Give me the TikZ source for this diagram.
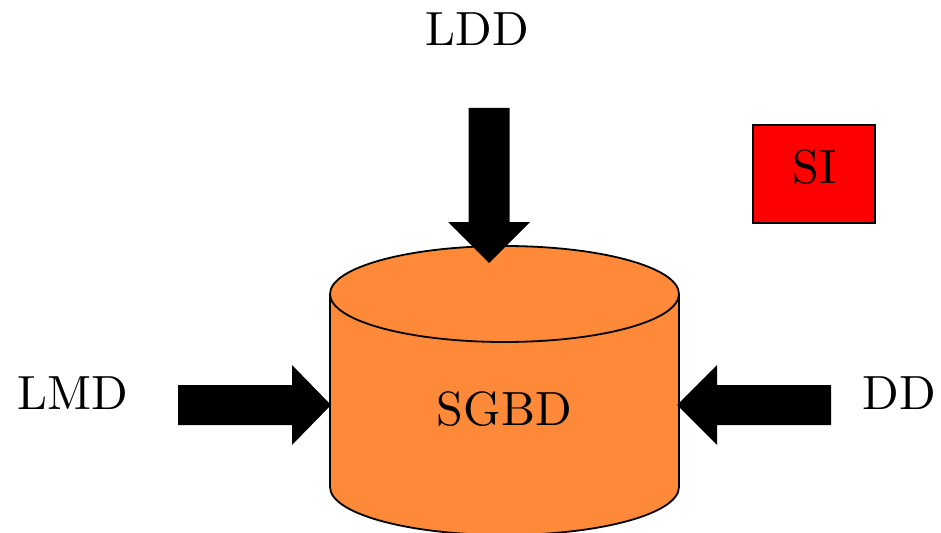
\documentclass[tikz,border=0pt]{standalone}
\usepackage{fontspec}
\newfontfamily\lmten{lmroman10-regular.otf}
\definecolor{sgbdorange}{RGB}{253,137,57}
\begin{document}
\begin{tikzpicture}[x=1pt,y=-1pt,
  lab/.style={font=\lmten\fontsize{48}{58}\selectfont, inner sep=0pt, anchor=base},
  blockarrow/.style={fill=black},
  cyl/.style={fill=sgbdorange, draw=black, line width=1.8pt}]
\useasboundingbox (0,0) rectangle (941,532);
% cylinder
\path[cyl] (330,294) -- (330,487) arc[start angle=180,end angle=0,x radius=174.5,y radius=48] -- (679,294) -- cycle;
\path[cyl] (504.5,294) ellipse[x radius=174.5,y radius=48];
\node[lab] (sgbd) at (504.5,425) {SGBD};
% labels
\node[lab] (ldd) at (477.5,46) {LDD};
\node[lab] (lmd) at (72.5,409) {LMD};
\node[lab] (dd) at (899.5,409) {DD};
% SI box
\node[draw=black, fill=red, line width=1.6pt, minimum width=122pt, minimum height=98pt, inner sep=0pt] (sibox) at (814,174) {};
\node[lab] (si) at (814.5,183) {SI};
% block arrows
\fill[blockarrow] (468.5,108) -- (509.5,108) -- (509.5,222) -- (530,222) -- (489,263) -- (448,222) -- (468.5,222) -- cycle;
\fill[blockarrow] (178,385) -- (292,385) -- (292,365) -- (331,405) -- (292,445) -- (292,425) -- (178,425) -- cycle;
\fill[blockarrow] (831,385) -- (717,385) -- (717,365) -- (677,405) -- (717,445) -- (717,425) -- (831,425) -- cycle;
\end{tikzpicture}
\end{document}
